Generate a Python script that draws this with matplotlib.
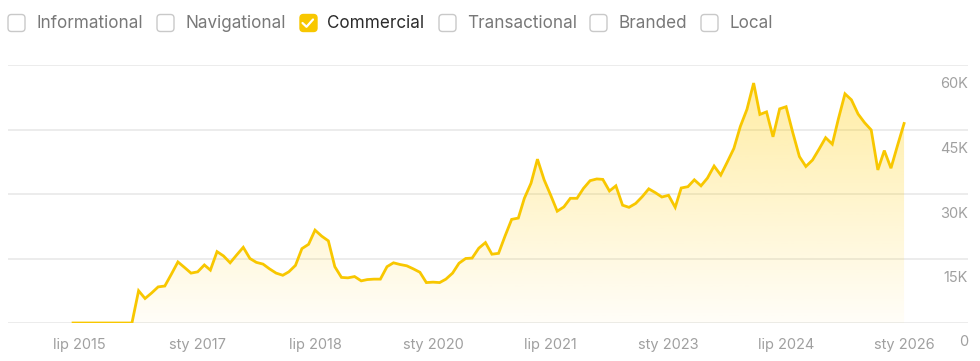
import numpy as np
import pandas as pd
import matplotlib
matplotlib.use('Agg')
import matplotlib.pyplot as plt
import matplotlib.dates as mdates
import matplotlib.transforms as mtransforms
from matplotlib.patches import FancyBboxPatch
from matplotlib.colors import LinearSegmentedColormap

plt.rcParams['font.family'] = ['Inter', 'DejaVu Sans']

# legend categories (only Commercial is ticked)
categories = ['Informational', 'Navigational', 'Commercial', 'Transactional', 'Branded', 'Local']
checked = [False, False, True, False, False, False]

# monthly values, Jun 2015 .. Jan 2026
months = pd.date_range('2015-06-01', periods=128, freq='MS')
values = [
    0, 0, 0, 0, 0, 0, 0, 0, 0, 0,
    7500, 5700, 7000, 8400, 8600, 11400, 14200, 12900, 11600, 11900,
    13500, 12300, 16600, 15600, 14000, 15800, 17600, 15000, 14100, 13700,
    12600, 11600, 11100, 11900, 13400, 17300, 18300, 21600, 20200, 19100,
    13100, 10600, 10500, 10800, 9800, 10100, 10200, 10200, 13100, 14000,
    13600, 13300, 12600, 11800, 9400, 9500, 9400, 10200, 11600, 13900,
    15000, 15100, 17400, 18700, 16000, 16200, 20200, 24100, 24400, 29000,
    32500, 38100, 33300, 29800, 26000, 27000, 29000, 29000, 31300, 33100,
    33500, 33400, 30700, 31900, 27400, 26900, 27800, 29400, 31200, 30300,
    29300, 29700, 26900, 31400, 31700, 33300, 31900, 33700, 36500, 34400,
    37400, 40600, 45700, 49700, 55800, 48500, 49100, 43300, 49800, 50300,
    44300, 38700, 36400, 37900, 40400, 43100, 41600, 47400, 53300, 51900,
    48600, 46600, 44900, 35600, 40100, 36000, 41200, 46400,
]

# axis labels
x_tick_dates = ['2015-07-01', '2017-01-01', '2018-07-01', '2020-01-01',
                '2021-07-01', '2023-01-01', '2024-07-01', '2026-01-01']
x_tick_labels = ['lip 2015', 'sty 2017', 'lip 2018', 'sty 2020',
                 'lip 2021', 'sty 2023', 'lip 2024', 'sty 2026']
y_ticks = [0, 15000, 30000, 45000, 60000]
y_tick_labels = ['0', '15K', '30K', '45K', '60K']

W, H = 980, 361
fig = plt.figure(figsize=(W / 100, H / 100), dpi=100)
fig.patch.set_facecolor('white')

line_color = '#f8c700'
grid_color = '#ebebeb'
label_color = '#a0a0a0'

# main chart axes (pixel placement)
left, right, top, bottom = 8, 968, 65, 323
ax = fig.add_axes([left / W, 1 - bottom / H, (right - left) / W, (bottom - top) / H])
ax.set_facecolor('none')

px_per_day = 0.2149
ref = mdates.date2num(pd.Timestamp('2015-07-01'))
ref_px = 79.5
xlim = (ref - (ref_px - left) / px_per_day, ref + (right - ref_px) / px_per_day)

for s in ax.spines.values():
    s.set_visible(False)
ax.set_yticks([])
ax.tick_params(axis='x', length=0, pad=10.5, labelsize=10.5, labelcolor=label_color)
ax.set_xticks(mdates.date2num(pd.to_datetime(x_tick_dates)))
ax.set_xticklabels(x_tick_labels)

for yv in y_ticks:
    ax.axhline(yv, color=grid_color, lw=1.3, zorder=0)

# y labels, right aligned, sitting under each gridline
off = mtransforms.offset_copy(ax.get_yaxis_transform(), fig=fig, x=0, y=-19.5, units='dots')
for yv, lab in zip(y_ticks, y_tick_labels):
    ax.text(1.0, yv, lab, transform=off, ha='right', va='center',
            fontsize=10.5, color=label_color)

xnum = mdates.date2num(months)
vals = np.array(values)

# gradient fill under the line
poly = ax.fill_between(xnum, vals, 0, color='none', lw=0)
cmap = LinearSegmentedColormap.from_list(
    'fade', [(1.0, 0.80, 0.0, 0.03), (1.0, 0.80, 0.0, 0.38)])
grad = np.linspace(0, 1, 256).reshape(-1, 1)
img = ax.imshow(grad, cmap=cmap, aspect='auto', origin='lower',
                extent=[xnum[0], xnum[-1], 0, 60000], zorder=1)
img.set_clip_path(poly.get_paths()[0], transform=ax.transData)
ax.set_xlim(*xlim)
ax.set_ylim(0, 60000)

ax.plot(xnum, vals, color=line_color, lw=2.0, zorder=3, solid_joinstyle='miter')

# legend row with checkboxes
lg = fig.add_axes([0, 0, 1, 1])
lg.set_xlim(0, W)
lg.set_ylim(H, 0)
lg.axis('off')
box_x = [8, 157, 300, 439, 590, 701]
text_x = [36, 185, 327, 467, 618, 729]
for bx, tx, name, on in zip(box_x, text_x, categories, checked):
    if on:
        lg.add_patch(FancyBboxPatch((bx, 14.5), 17, 17, boxstyle='round,pad=0,rounding_size=3.5',
                                    fc=line_color, ec=line_color, lw=1))
        lg.plot([bx + 2.5, bx + 6.5, bx + 13], [23, 26.8, 19.5], color='white', lw=1.6,
                solid_capstyle='round', solid_joinstyle='round')
        tc = '#2b2b2b'
    else:
        lg.add_patch(FancyBboxPatch((bx, 14.5), 17, 17, boxstyle='round,pad=0,rounding_size=3.5',
                                    fc='white', ec='#c9c9c9', lw=1))
        tc = '#787878'
    lg.text(tx, 23, name, ha='left', va='center', fontsize=12.3, color=tc)

fig.savefig('out.png', dpi=100, facecolor='white')
